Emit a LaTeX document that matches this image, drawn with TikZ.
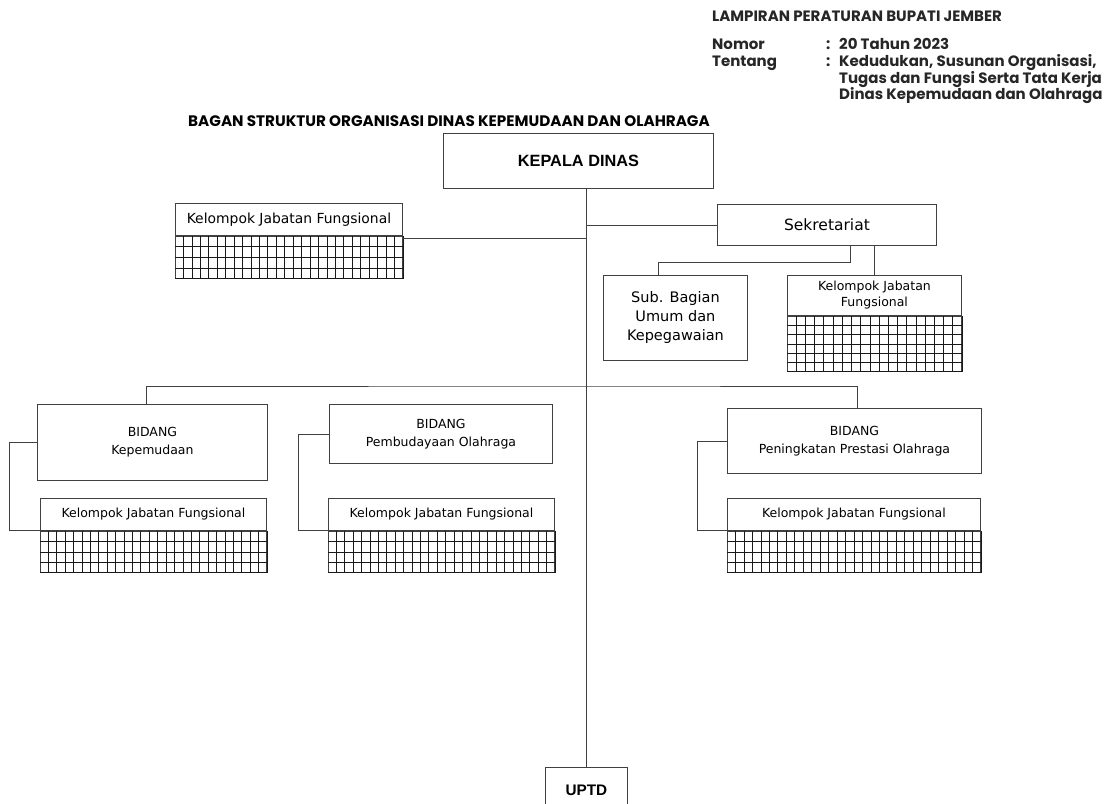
\documentclass[tikz,border=0pt]{standalone}
\usepackage{fontspec}
\usepackage{tikz}
\usetikzlibrary{calc, positioning}

\newfontfamily\popfont{Poppins}
\newfontfamily\verfont{DejaVu Sans}
\newfontfamily\arialfont{Liberation Sans}

\newcommand{\cellgrid}[3]{%
  \foreach \i in {1,...,#2}
    \draw[cellline] ($(#1.north west)!{\i/#2}!(#1.north east)$) -- ($(#1.south west)!{\i/#2}!(#1.south east)$);
  \foreach \j in {1,...,#3}
    \draw[cellline] ($(#1.north west)!{\j/#3}!(#1.south west)$) -- ($(#1.north east)!{\j/#3}!(#1.south east)$);
}

\begin{document}
\begin{tikzpicture}[
  x=1pt, y=-1pt,
  link/.style={draw=black!75, line width=0.9pt},
  unitbox/.style={rectangle, draw=black!75, line width=0.9pt, fill=white, anchor=north west, align=center, inner sep=0pt},
  headbox/.style={unitbox, font=\arialfont\bfseries\fontsize{15.3}{18}\selectfont},
  fungsi/.style={unitbox, font=\verfont\fontsize{12.5}{16}\selectfont},
  cellarea/.style={rectangle, draw=black!75, line width=0.9pt, anchor=north west, inner sep=0pt},
  cellline/.style={draw=black!90, line width=0.7pt},
  hdr/.style={anchor=base west, inner sep=0pt, font=\popfont\bfseries\fontsize{15}{18}\selectfont, text=black!85},
  judul/.style={anchor=base west, inner sep=0pt, font=\popfont\bfseries\fontsize{15.2}{18}\selectfont}
]
\useasboundingbox (0,0) rectangle (1108,803);
\clip (0,0) rectangle (1108,803);

% kop
\node[hdr] (lamp) at (712,21) {LAMPIRAN PERATURAN BUPATI JEMBER};
\node[hdr] (nomor) at (712,49) {Nomor};
\node[hdr] (tentang) at (712,66) {Tentang};
\node[hdr] (col1) at (826,49) {:};
\node[hdr] (col2) at (826,66) {:};
\node[hdr] (nomv) at (839,49) {20 Tahun 2023};
\node[hdr] (tent1) at (839,66) {Kedudukan, Susunan Organisasi,};
\node[hdr] (tent2) at (839,83) {Tugas dan Fungsi Serta Tata Kerja};
\node[hdr] (tent3) at (839,99) {Dinas Kepemudaan dan Olahraga};
\node[judul] (judul) at (188,126) {BAGAN STRUKTUR ORGANISASI DINAS KEPEMUDAAN DAN OLAHRAGA};

% kotak
\node[headbox, minimum width=270, minimum height=55, font=\arialfont\bfseries\fontsize{16.3}{19}\selectfont] (kepala) at (443,133) {KEPALA DINAS};
\node[headbox, minimum width=82, minimum height=45] (uptd) at (545,767) {UPTD};
\node[unitbox, minimum width=219, minimum height=41, font=\verfont\fontsize{15.5}{19}\selectfont] (sek) at (717,204) {Sekretariat};
\node[unitbox, minimum width=144, minimum height=85, font=\verfont\fontsize{14.5}{19}\selectfont] (sub) at (603,275) {Sub. Bagian\\Umum dan\\Kepegawaian};

\node[fungsi, minimum width=227, minimum height=32, font=\verfont\fontsize{13.9}{16}\selectfont] (l0) at (175,203) {Kelompok Jabatan Fungsional};
\node[cellarea, minimum width=227, minimum height=42] (g0) at (l0.south west) {};
\node[fungsi, minimum width=174, minimum height=40] (ls) at (787,275) {Kelompok Jabatan\\Fungsional};
\node[cellarea, minimum width=174, minimum height=55] (gs) at (ls.south west) {};

\node[fungsi, minimum width=230, minimum height=76, font=\verfont\fontsize{12.5}{18}\selectfont] (bk) at (37,404) {BIDANG\\Kepemudaan};
\node[fungsi, minimum width=226, minimum height=32] (l1) at (40,498) {Kelompok Jabatan Fungsional};
\node[cellarea, minimum width=226, minimum height=41] (g1) at (l1.south west) {};

\node[fungsi, minimum width=223, minimum height=59, font=\verfont\fontsize{12.5}{18}\selectfont] (bp) at (329,404) {BIDANG\\Pembudayaan Olahraga};
\node[fungsi, minimum width=226, minimum height=32] (l2) at (328,498) {Kelompok Jabatan Fungsional};
\node[cellarea, minimum width=226, minimum height=41] (g2) at (l2.south west) {};

\node[fungsi, minimum width=254, minimum height=65, font=\verfont\fontsize{12.5}{18}\selectfont] (bq) at (727,408) {BIDANG\\Peningkatan Prestasi Olahraga};
\node[fungsi, minimum width=253, minimum height=32] (l3) at (727,498) {Kelompok Jabatan Fungsional};
\node[cellarea, minimum width=253, minimum height=41] (g3) at (l3.south west) {};

\cellgrid{g0}{27}{4}
\cellgrid{gs}{19}{6}
\cellgrid{g1}{27}{4}
\cellgrid{g2}{27}{4}
\cellgrid{g3}{30}{4}

% garis
\draw[link] (uptd.north |- kepala.south) -- (uptd.north);
\draw[link] (sek.west) -- (sek.west -| uptd.north);
\coordinate (j0) at ([yshift=-3pt]g0.north east);
\draw[link] (j0) -- (j0 -| uptd.north);
\coordinate (sbk) at (658,262);
\draw[link] ([xshift=23pt]sek.south) |- (sbk) -- (sbk |- sub.north);
\draw[link] (ls.north) -- (ls.north |- sek.south);
\coordinate (bus) at (586,386);
\draw[link] ([xshift=-6pt]bk.north) |- (bus) -| ([xshift=3pt]bq.north);
\draw[link] (bk.west) -- ++(-28,0) |- (l1.south west);
\draw[link] (bp.west) -- ++(-31,0) |- (l2.south west);
\draw[link] (bq.west) -- ++(-30,0) |- (l3.south west);
\end{tikzpicture}
\end{document}
